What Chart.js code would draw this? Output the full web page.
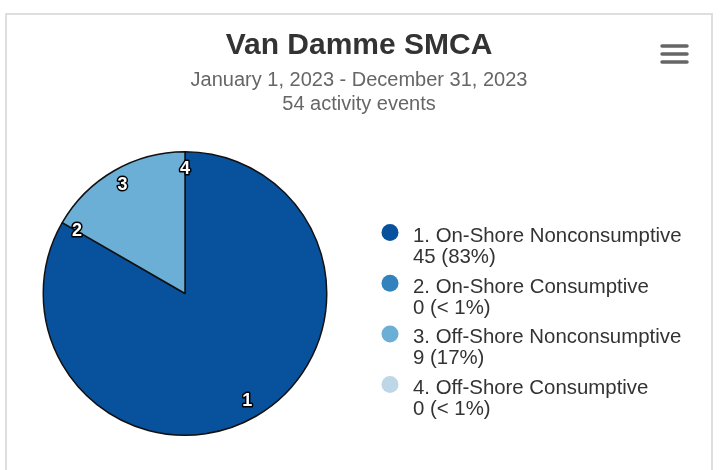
<!DOCTYPE html>
<html><head><meta charset="utf-8">
<script src="https://cdn.jsdelivr.net/npm/chart.js@4/dist/chart.umd.min.js"></script>
<style>
html,body{margin:0;padding:0;background:#fff;overflow:hidden;}
#frame{position:absolute;left:5px;top:13px;width:704px;height:470px;border:2px solid #dedede;border-bottom:none;background:#fff;}
#wrap{position:relative;width:704px;height:455px;}
</style></head><body>
<div id="frame"><div id="wrap"><canvas id="c"></canvas></div></div>
<script>
// ---- data ----
const categories = ['On-Shore Nonconsumptive','On-Shore Consumptive','Off-Shore Nonconsumptive','Off-Shore Consumptive'];
const sliceNumbers = ['1','2','3','4'];
const eventCounts = [45, 0, 9, 0];
const percentLabels = ['83%','< 1%','17%','< 1%'];
const sliceColors = ['#08519c','#3182bd','#6baed6','#bdd7e7'];
const titleText = 'Van Damme SMCA';
const subtitleLines = ['January 1, 2023 - December 31, 2023', '54 activity events'];

const FONT = '"Liberation Sans", Arial, Helvetica, sans-serif';

const decor = {
  id: 'decor',
  afterDatasetsDraw(chart) {
    const ctx = chart.ctx;
    const meta = chart.getDatasetMeta(0);
    ctx.save();
    ctx.font = 'bold 18px ' + FONT;
    ctx.textAlign = 'center';
    ctx.textBaseline = 'middle';
    ctx.lineJoin = 'round';
    meta.data.forEach((arc, i) => {
      const p = arc.getProps(['x','y','startAngle','endAngle','outerRadius'], true);
      const mid = (p.startAngle + p.endAngle) / 2;
      const r = p.outerRadius * 0.88;
      const x = p.x + Math.cos(mid) * r;
      const y = p.y + Math.sin(mid) * r;
      ctx.lineWidth = 3;
      ctx.strokeStyle = '#000';
      ctx.strokeText(sliceNumbers[i], x, y);
      ctx.fillStyle = '#fff';
      ctx.fillText(sliceNumbers[i], x, y);
    });
    ctx.restore();
  },
  afterDraw(chart) {
    const ctx = chart.ctx;
    const W = chart.width;
    ctx.save();
    // title
    ctx.textAlign = 'center';
    ctx.textBaseline = 'middle';
    ctx.fillStyle = '#333';
    ctx.font = 'bold 30px ' + FONT;
    ctx.fillText(titleText, W / 2, 31);
    // subtitle
    ctx.fillStyle = '#666';
    ctx.font = '20px ' + FONT;
    subtitleLines.forEach((t, i) => ctx.fillText(t, W / 2, 65 + i * 24));
    // legend
    const ds = chart.data.datasets[0];
    ctx.textAlign = 'left';
    ctx.textBaseline = 'alphabetic';
    chart.data.labels.forEach((lab, i) => {
      const cy = 217.5 + i * 50.7;
      ctx.beginPath();
      ctx.arc(383, cy, 8.5, 0, Math.PI * 2);
      ctx.fillStyle = ds.backgroundColor[i];
      ctx.fill();
      ctx.fillStyle = '#333';
      ctx.font = '20.4px ' + FONT;
      ctx.fillText(sliceNumbers[i] + '. ' + lab, 406, cy + 9.5);
      ctx.fillText(ds.data[i] + ' (' + percentLabels[i] + ')', 406, cy + 30.5);
    });
    // menu icon
    ctx.strokeStyle = '#666';
    ctx.lineWidth = 3.5;
    ctx.lineCap = 'round';
    [31, 39, 47].forEach(y => {
      ctx.beginPath();
      ctx.moveTo(655, y);
      ctx.lineTo(680, y);
      ctx.stroke();
    });
    ctx.restore();
  }
};

new Chart(document.getElementById('c'), {
  type: 'pie',
  data: {
    labels: categories,
    datasets: [{
      data: eventCounts,
      backgroundColor: sliceColors,
      borderColor: '#111',
      borderWidth: 1.5
    }]
  },
  options: {
    responsive: true,
    maintainAspectRatio: false,
    animation: false,
    layout: { padding: { left: 35, right: 383, top: 136, bottom: 34 } },
    plugins: {
      legend: { display: false },
      title: { display: false },
      tooltip: { enabled: true }
    }
  },
  plugins: [decor]
});
</script>
</body></html>
